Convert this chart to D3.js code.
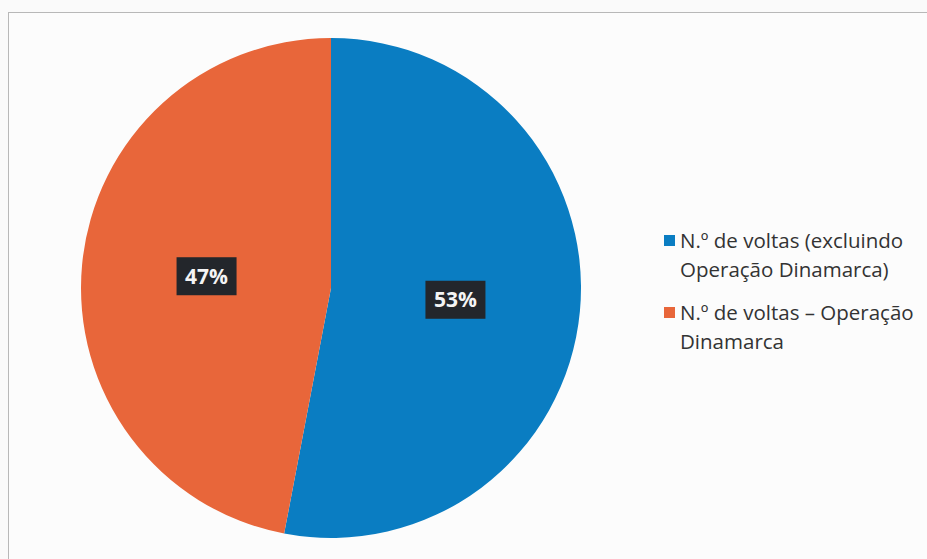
<!DOCTYPE html>
<html>
<head>
<meta charset="utf-8">
<script src="https://cdn.jsdelivr.net/npm/d3@7.9.0/dist/d3.min.js"></script>
<style>
  body { margin: 0; background: #fafafa; }
  svg { display: block; font-family: "Open Sans", sans-serif; }
</style>
</head>
<body>
<svg id="chart"></svg>
<script>
let categories = ['N.º de voltas (excluindo Operação Dinamarca)', 'N.º de voltas – Operação Dinamarca'];
let legendLines = [['N.º de voltas (excluindo', 'Operação Dinamarca)'], ['N.º de voltas – Operação', 'Dinamarca']];
let values = [53, 47];
let colors = ['#0a7dc2', '#e8663a'];

let svg = d3.select('#chart').attr('width', 927).attr('height', 559);

svg.append('rect')
  .attr('x', 8.5).attr('y', 12.5)
  .attr('width', 930).attr('height', 560)
  .attr('fill', '#fcfcfc')
  .attr('stroke', '#b8b8b8');

let cx = 331, cy = 288, r = 250;
let g = svg.append('g').attr('transform', `translate(${cx},${cy})`);

let pie = d3.pie().sort(null).value(d => d);
let arcs = pie(values);
let arc = d3.arc().innerRadius(0).outerRadius(r);
let labelArc = d3.arc().innerRadius(r * 0.5).outerRadius(r * 0.5);

g.selectAll('path')
  .data(arcs)
  .join('path')
  .attr('d', arc)
  .attr('fill', (d, i) => colors[i]);

let labels = g.selectAll('g.lab')
  .data(arcs)
  .join('g')
  .attr('class', 'lab')
  .attr('transform', d => `translate(${labelArc.centroid(d)})`);

labels.append('rect')
  .attr('x', -30).attr('y', -19)
  .attr('width', 60).attr('height', 38)
  .attr('fill', '#23262b');

labels.append('text')
  .attr('text-anchor', 'middle')
  .attr('dy', '0.36em')
  .attr('fill', '#f4f4f4')
  .attr('font-weight', 'bold')
  .attr('font-size', 21)
  .text(d => d.data + '%');

let legend = svg.append('g').attr('transform', 'translate(664,241)');
let items = legend.selectAll('g')
  .data(categories)
  .join('g')
  .attr('transform', (d, i) => `translate(0,${i * 72})`);

items.append('rect')
  .attr('x', 0).attr('y', -6)
  .attr('width', 11).attr('height', 11)
  .attr('fill', (d, i) => colors[i]);

items.each(function(d, i) {
  let t = d3.select(this).append('text')
    .attr('x', 16)
    .attr('font-size', 20.5)
    .attr('fill', '#333');
  legendLines[i].forEach((line, j) => {
    t.append('tspan').attr('x', 16).attr('y', j * 29).attr('dy', '0.35em').text(line);
  });
});
</script>
</body>
</html>
